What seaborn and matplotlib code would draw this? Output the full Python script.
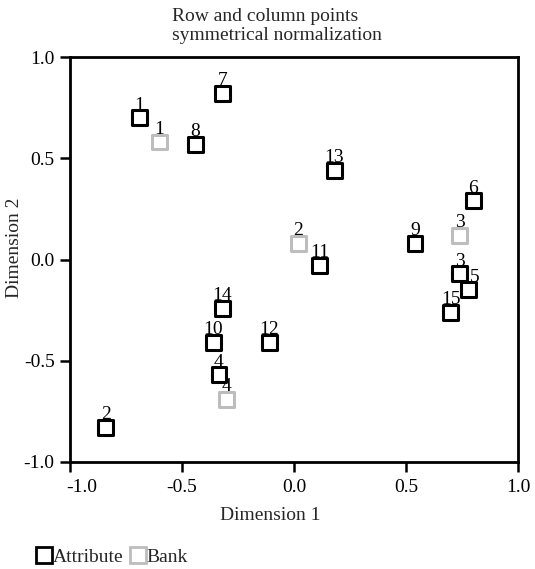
import matplotlib
matplotlib.use("Agg")
import matplotlib.pyplot as plt
import matplotlib.transforms as mtransforms
import seaborn as sns
import pandas as pd
from matplotlib.lines import Line2D

attr_labels = ["1", "2", "3", "4", "5", "6", "7", "8", "9", "10", "11", "12", "13", "14", "15"]
attr_x = [-0.69, -0.84, 0.74, -0.335, 0.78, 0.80, -0.32, -0.44, 0.54, -0.36, 0.115, -0.11, 0.18, -0.32, 0.70]
attr_y = [0.70, -0.83, -0.07, -0.57, -0.15, 0.29, 0.82, 0.57, 0.08, -0.41, -0.03, -0.41, 0.44, -0.24, -0.26]

bank_labels = ["1", "2", "3", "4"]
bank_x = [-0.60, 0.02, 0.74, -0.30]
bank_y = [0.58, 0.08, 0.12, -0.69]

groups = ["Attribute", "Bank"]
colors = {"Attribute": "#000000", "Bank": "#bdbdbd"}

ticks = [-1.0, -0.5, 0.0, 0.5, 1.0]
tick_labels = ["-1.0", "-0.5", "0.0", "0.5", "1.0"]

df = pd.DataFrame({
    "x": attr_x + bank_x,
    "y": attr_y + bank_y,
    "label": attr_labels + bank_labels,
    "group": ["Attribute"] * len(attr_x) + ["Bank"] * len(bank_x),
})

sns.set_style("white")
plt.rcParams["font.family"] = ["Liberation Serif", "DejaVu Serif"]

FS = 14
W, H = 535, 569

fig = plt.figure(figsize=(W / 100, H / 100), dpi=100)
ax = fig.add_axes([70 / W, 1 - 462 / H, 448 / W, 405 / H])

sns.scatterplot(data=df, x="x", y="y", hue="group", palette=colors, marker="s",
                s=115, legend=False, ax=ax)
for coll in ax.collections:
    ec = coll.get_facecolors().copy()
    coll.set_edgecolors(ec)
    coll.set_facecolor("white")
    coll.set_linewidth(2.2)

# label placement nudges (points) where labels would collide
nudge = {("Attribute", "5"): (4, 0)}
for _, r in df.iterrows():
    dx, dy = nudge.get((r["group"], r["label"]), (0, 0))
    ax.annotate(r["label"], (r["x"], r["y"]), xytext=(dx, 3 + dy), textcoords="offset points",
                ha="center", va="bottom", fontsize=FS, color="black", zorder=5)

ax.set_xlim(-1, 1)
ax.set_ylim(-1, 1)
ax.set_xticks(ticks)
ax.set_yticks(ticks)
ax.set_xticklabels(tick_labels)
ax.set_yticklabels(tick_labels)
ax.tick_params(axis="both", which="both", direction="out", length=7, width=1.8,
               labelsize=FS, bottom=True, left=True, colors="black")
ax.tick_params(axis="x", pad=5)
ax.tick_params(axis="y", pad=4)
first = ax.get_xticklabels()[0]
first.set_transform(first.get_transform() + mtransforms.ScaledTranslation(12 / 100, 0, fig.dpi_scale_trans))
for sp in ax.spines.values():
    sp.set_visible(True)
    sp.set_color("black")
    sp.set_linewidth(2)

ax.set_xlabel("Dimension 1", fontsize=FS)
ax.xaxis.label.set_va("center")
ax.xaxis.set_label_coords((270 - 70) / 448, (462 - 516) / 405)
ax.set_ylabel("Dimension 2", fontsize=FS)
ax.yaxis.label.set_va("center")
ax.yaxis.set_label_coords((15 - 70) / 448, (462 - 248) / 405)

fig.text(172 / W, 1 - 26 / H, "Row and column points\nsymmetrical normalization",
         ha="left", va="center", multialignment="left", fontsize=FS, linespacing=1.15)

handles = [Line2D([], [], marker="s", linestyle="", markersize=11, markerfacecolor="white",
                  markeredgecolor=colors[g], markeredgewidth=2, label=g) for g in groups]
fig.legend(handles=handles, loc="center left", bbox_to_anchor=(37 / W, 1 - 557 / H), ncol=2,
           frameon=False, fontsize=FS, handlelength=0.7, handletextpad=0.1,
           columnspacing=0.4, borderaxespad=0, borderpad=0)

fig.savefig("out.png", dpi=100)
